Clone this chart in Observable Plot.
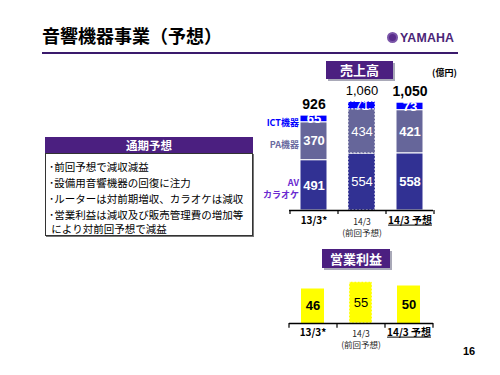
<!DOCTYPE html>
<html>
<head>
<meta charset="utf-8">
<script src="https://cdn.jsdelivr.net/npm/d3@7"></script>
<script src="https://cdn.jsdelivr.net/npm/@observablehq/plot@0.6"></script>
<style>
  html, body { margin: 0; padding: 0; background: #fff; }
  #page { position: relative; width: 500px; height: 375px; overflow: hidden; font-family: "Noto Sans CJK JP", "Noto Sans", sans-serif; color: #000; }
  .abs { position: absolute; }
  .title { left: 42px; top: 22px; font-size: 18px; font-weight: bold; line-height: 26px; }
  .rule { left: 42px; top: 52px; width: 416px; height: 2px; background: #3a1a6c; }
  .logo { left: 387px; top: 30px; height: 14px; display: flex; align-items: center; gap: 2px; }
  .emblem { width: 11px; height: 11px; border-radius: 50%; background: #5a2d8c; display: inline-block; box-sizing: border-box; border: 2px solid #7a55a8; }
  .logotext { font-family: "Liberation Sans", Arial, sans-serif; font-weight: bold; font-size: 13px; color: #4a2577; letter-spacing: 0.2px; transform: scaleX(0.95); transform-origin: left; }
  .tag { background: #4b1f80; color: #fff; font-weight: bold; text-align: center; box-shadow: 2px 2px 0 #a9a9b8; }
  .unit { left: 432px; top: 66px; font-size: 9px; font-weight: bold; }
  .box { left: 45px; top: 153px; width: 208px; height: 83px; border: 1px solid #333; box-sizing: border-box; box-shadow: 1px 1px 0 #777; }
  .line { position: absolute; left: 49px; font-size: 10.5px; line-height: 12px; white-space: nowrap; }
  .page-no { left: 463px; top: 345px; font-size: 11px; font-weight: bold; font-family: "Liberation Sans", Arial, sans-serif; }
  .plot { position: absolute; }
</style>
</head>
<body>
<div id="page">
  <div class="abs title">音響機器事業（予想）</div>
  <div class="abs rule"></div>
  <div class="abs logo"><span class="emblem"></span><span class="logotext">YAMAHA</span></div>

  <div class="abs tag" style="left:326px;top:61px;width:67px;height:18px;line-height:18px;font-size:13px;">売上高</div>
  <div class="abs unit">(億円)</div>

  <div class="abs tag" style="left:45px;top:137px;width:208px;height:16px;line-height:16px;font-size:11.5px;box-shadow:none;">通期予想</div>
  <div class="abs box"></div>
  <div class="line" style="top:161px">･前回予想で減収減益</div>
  <div class="line" style="top:177px">･設備用音響機器の回復に注力</div>
  <div class="line" style="top:193px">･ルーターは対前期増収、カラオケは減収</div>
  <div class="line" style="top:208px;line-height:14px">･営業利益は減収及び販売管理費の増加等<br>&nbsp;により対前回予想で減益</div>

  <div class="abs tag" style="left:322px;top:249px;width:68px;height:19px;line-height:19px;font-size:13px;">営業利益</div>

  <div id="sales" class="plot" style="left:240px;top:80px;"></div>
  <div id="profit" class="plot" style="left:240px;top:268px;"></div>

  <div class="abs page-no">16</div>
</div>
<script>
// ---- data ----
const periods = ["13/3*", "14/3 前回予想", "14/3 予想"];
const periodLabels = ["13/3*", "14/3\n(前回予想)", "14/3 予想"];
const segments = ["AV・カラオケ", "PA機器", "ICT機器"];
const segmentLabels = ["AV\nカラオケ", "PA機器", "ICT機器"];
const avValues = [491, 554, 558];
const paValues = [370, 434, 421];
const ictValues = [65, 71, 73];
const salesTotals = [926, 1060, 1050];
const profitValues = [46, 55, 50];

const segColors = ["#313193", "#66669a", "#0000ff"];
const labelColors = ["#6a2ad0", "#6a6aa0", "#0000ff"];
const FONT = "Noto Sans CJK JP";
const prev = periods[1];

const seriesValues = [avValues, paValues, ictValues];
const sales = [];
segments.forEach((s, si) => periods.forEach((p, pi) => sales.push({period: p, segment: s, value: seriesValues[si][pi], si})));
const totals = periods.map((p, i) => ({period: p, total: salesTotals[i]}));
const profit = periods.map((p, i) => ({period: p, value: profitValues[i]}));
const labelsData = periods.map((p, i) => ({period: p, label: periodLabels[i]}));
const firstBar = sales.filter(d => d.period === periods[0]);

function xLabelMarks(dy, lineHeight) {
  return [
    Plot.text(labelsData.filter(d => d.period === periods[0]), {x: "period", text: "label", frameAnchor: "bottom", lineAnchor: "top", dy, fontSize: 10, fontWeight: "bold", fontFamily: FONT, fill: "#000"}),
    Plot.text(labelsData.filter(d => d.period === periods[1]), {x: "period", text: "label", frameAnchor: "bottom", lineAnchor: "top", dy, lineHeight, fontSize: 8.5, fontFamily: FONT, fill: "#222"}),
    Plot.text(labelsData.filter(d => d.period === periods[2]), {x: "period", text: "label", frameAnchor: "bottom", lineAnchor: "top", dy, fontSize: 10, fontWeight: "bold", fontFamily: FONT, fill: "#000", ariaDescription: "underlined"})
  ];
}
function axisMarks() {
  return [
    Plot.ruleY([0], {stroke: "#000", strokeWidth: 1.5}),
    Plot.ruleX(periods, {x: d => d, y1: d => 0, y2: d => -1, dx: -24, stroke: "#000", strokeWidth: 1.2, insetBottom: -4}),
    Plot.ruleX([periods[2]], {x: d => d, y1: d => 0, y2: d => -1, dx: 24, stroke: "#000", strokeWidth: 1.2, insetBottom: -4})
  ];
}

// ---- sales chart ----
const salesPlot = Plot.plot({
  width: 220, height: 165,
  marginLeft: 49, marginRight: 27, marginTop: 7, marginBottom: 35,
  style: {background: "transparent", fontFamily: FONT, overflow: "visible"},
  x: {domain: periods, axis: null, paddingInner: 0.4375, paddingOuter: 0.21875},
  y: {domain: [0, 1200], axis: null},
  color: {domain: segments, range: segColors},
  marks: [
    Plot.barY(sales.filter(d => d.period !== prev), Plot.stackY({x: "period", y: "value", fill: "segment", order: segments, stroke: "#fff", strokeWidth: 1})),
    Plot.barY(sales.filter(d => d.period === prev), Plot.stackY({x: "period", y: "value", fill: "segment", order: segments, stroke: "#fff", strokeWidth: 1.2, strokeDasharray: "2,1.5"})),
    Plot.text(sales, Plot.stackY({x: "period", y: "value", order: segments, z: "segment", text: d => d.period === prev ? "" : String(d.value), fill: "#fff", fontSize: 13, fontWeight: "bold", fontFamily: "Liberation Sans"})),
    Plot.text(sales, Plot.stackY({x: "period", y: "value", order: segments, z: "segment", text: d => d.period === prev ? String(d.value) : "", fill: "#fff", fontSize: 13, fontFamily: "Liberation Sans"})),
    Plot.text(totals.filter(d => d.period !== prev), {x: "period", y: "total", text: d => d3.format(",")(d.total), dy: -11, fontSize: 14, fontWeight: "bold", fontFamily: "Liberation Sans", fill: "#000"}),
    Plot.text(totals.filter(d => d.period === prev), {x: "period", y: "total", text: d => d3.format(",")(d.total), dy: -11, fontSize: 13, fontFamily: "Liberation Sans", fill: "#000"}),
    Plot.text(firstBar, Plot.stackY({x: "period", y: "value", order: segments, z: "segment", text: d => segmentLabels[d.si], fill: d => labelColors[d.si], textAnchor: "end", dx: -15, dy: 3, fontSize: 9, fontWeight: "bold", fontFamily: FONT, lineHeight: 1.35})),
    ...axisMarks(),
    ...xLabelMarks(6, 1.35)
  ]
});
document.getElementById("sales").appendChild(salesPlot);

// ---- profit chart ----
const profitPlot = Plot.plot({
  width: 220, height: 90,
  marginLeft: 49, marginRight: 27, marginTop: 10, marginBottom: 35,
  style: {background: "transparent", fontFamily: FONT, overflow: "visible"},
  x: {domain: periods, axis: null, paddingInner: 0.52, paddingOuter: 0.26},
  y: {domain: [0, 60], axis: null},
  marks: [
    Plot.barY(profit.filter(d => d.period !== prev), {x: "period", y: "value", fill: "#ffff00"}),
    Plot.barY(profit.filter(d => d.period === prev), {x: "period", y: "value", fill: "#ffff00", stroke: "#fff", strokeWidth: 1.2, strokeDasharray: "2,1.5"}),
    Plot.text(profit.filter(d => d.period !== prev), {x: "period", y: d => d.value / 2, text: d => String(d.value), fontSize: 13, fontWeight: "bold", fontFamily: "Liberation Sans", fill: "#000"}),
    Plot.text(profit.filter(d => d.period === prev), {x: "period", y: d => d.value / 2, text: d => String(d.value), fontSize: 13, fontFamily: "Liberation Sans", fill: "#000"}),
    ...axisMarks(),
    ...xLabelMarks(5, 1.35)
  ]
});
document.getElementById("profit").appendChild(profitPlot);

// underline the current-forecast axis label
document.querySelectorAll('g[aria-description="underlined"] text').forEach(t => t.setAttribute("text-decoration", "underline"));
</script>
</body>
</html>
